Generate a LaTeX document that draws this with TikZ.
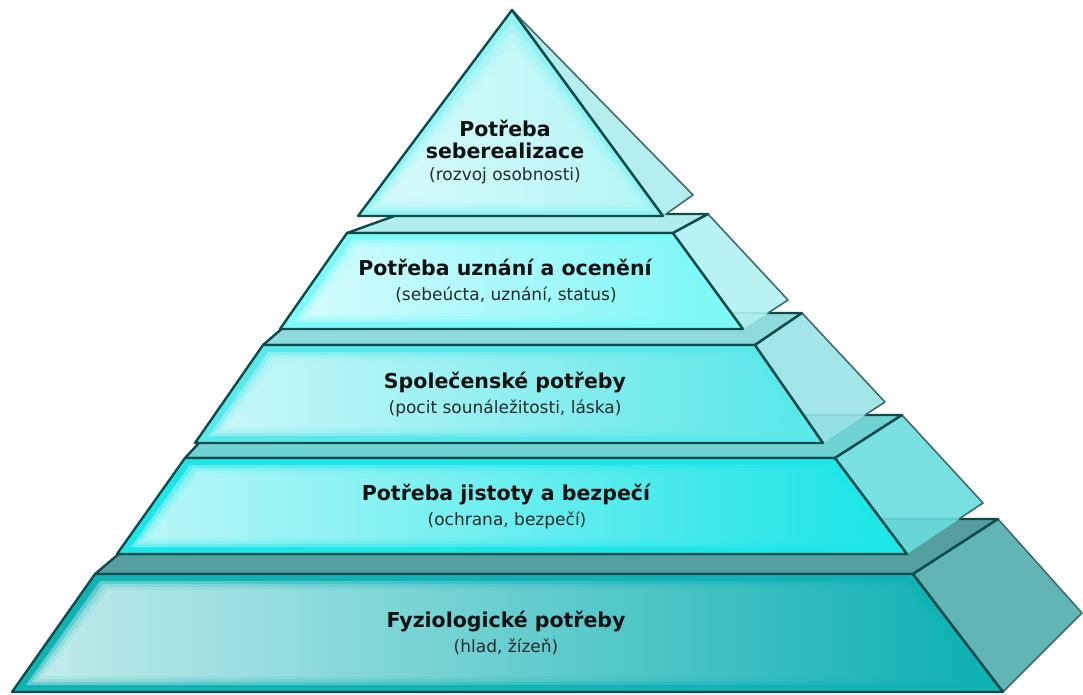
\documentclass[tikz,border=0pt]{standalone}
\usepackage{fontspec}
\setmainfont{DejaVu Sans}
\usetikzlibrary{calc}

\definecolor{edgec}{HTML}{0E4C4C}
\definecolor{sidec}{HTML}{416C6C}
\definecolor{textc}{HTML}{111111}
% colours of the levels (1 = top)
\definecolor{front1}{HTML}{90F2F2}\definecolor{hl1}{HTML}{DCFCFC}\definecolor{side1}{HTML}{ACECEC}
\definecolor{front2}{HTML}{7EF8F8}\definecolor{hl2}{HTML}{DCFEFE}\definecolor{strip2}{HTML}{B0EEEE}\definecolor{side2}{HTML}{B0F1F1}
\definecolor{front3}{HTML}{5AE8EA}\definecolor{hl3}{HTML}{D4FAFA}\definecolor{strip3}{HTML}{8FDADA}\definecolor{side3}{HTML}{98E3E5}
\definecolor{front4}{HTML}{1EE6E8}\definecolor{hl4}{HTML}{C8FAFA}\definecolor{strip4}{HTML}{6FD3D3}\definecolor{side4}{HTML}{69DDDD}
\definecolor{front5}{HTML}{10B2B4}\definecolor{hl5}{HTML}{D4F2F2}\definecolor{strip5}{HTML}{569F9F}\definecolor{side5}{HTML}{50ADAD}

\begin{document}
\begin{tikzpicture}[x=1pt,y=-1pt,line join=round,
    edge/.style={draw=edgec, line width=2.4pt},
    sideline/.style={draw=sidec, line width=1.6pt},
    bandtitle/.style={font=\bfseries\fontsize{20.5}{24}\selectfont, text=textc, anchor=base, inner sep=0pt},
    bandsub/.style={font=\fontsize{17}{20}\selectfont, text=textc!90, anchor=base, inner sep=0pt}]
    \useasboundingbox (0,0) rectangle (1083,695);

    % Levels, drawn from the bottom up
    \foreach \n/\yt/\yb/\lt/\lb/\rt/\rb/\ys/\sl/\sbt/\sbx/\sby/\cx/\cy in {
        5/574/692/95/12/913/1003/519/160/998/1082/613/1003/692,
        4/458/554/185/117/835/907/415/225/902/983/503/959/519,
        3/345/443/263/195/755/823/313/300/802/885/402/865/415,
        2/233/329/347/280/673/743/214/400/708/788/300/768/313} {
        % top strip
        \filldraw[fill=strip\n, edge] (\lt,\yt) -- (\sl,\ys) -- (\sbt,\ys) -- (\rt,\yt) -- cycle;
        % front face with a soft glow
        \fill[front\n] (\lt,\yt) -- (\rt,\yt) -- (\rb,\yb) -- (\lb,\yb) -- cycle;
        \foreach \d in {7,10,13,16}
            \shade[left color=hl\n, right color=front\n, opacity=.45]
                ({\lt+\d-2},{\yt+\d}) -- ({\rt-\d+2},{\yt+\d}) -- ({\rb-2*\d},{\yb-\d}) -- ({\lb+2*\d},{\yb-\d}) -- cycle;
        \draw[edge] (\lt,\yt) -- (\rt,\yt) -- (\rb,\yb) -- (\lb,\yb) -- cycle;
        % side face
        \fill[side\n, fill opacity=.9] (\rt,\yt) -- (\sbt,\ys) -- (\sbx,\sby) -- (\rb,\yb) -- cycle;
        \draw[sideline] (\sbt,\ys) -- (\sbx,\sby) -- (\cx,\cy);
        \draw[edge] (\rb,\yb) -- (\rt,\yt) -- (\sbt,\ys);
    }

    % Top
    \fill[front1] (512,10) -- (663,216) -- (358,216) -- cycle;
    \foreach \d in {5,9,13,17}
        \shade[left color=hl1, right color=front1!40!hl1, opacity=.45]
            (512,{10+2.4*\d}) -- ({663-1.8*\d},{216-\d}) -- ({358+1.8*\d},{216-\d}) -- cycle;
    \draw[edge] (512,10) -- (663,216) -- (358,216) -- cycle;
    \fill[side1, fill opacity=.9] (512,10) -- (693,195) -- (663,216) -- cycle;
    \draw[sideline] (514,12) -- (693,195) -- (666,214);
    \draw[edge] (512,10) -- (663,216);

    % Labels
    \node[bandtitle] (selfA) at (505,137) {Potřeba};
    \node[bandtitle] (selfB) at (505,159) {seberealizace};
    \node[bandsub] (selfC) at (505,180) {(rozvoj osobnosti)};
    \node[bandtitle] (esteemA) at (505,275) {Potřeba uznání a ocenění};
    \node[bandsub] (esteemB) at (506,300) {(sebeúcta, uznání, status)};
    \node[bandtitle] (socialA) at (505,388) {Společenské potřeby};
    \node[bandsub] (socialB) at (505,413) {(pocit sounáležitosti, láska)};
    \node[bandtitle] (safetyA) at (506,500) {Potřeba jistoty a bezpečí};
    \node[bandsub] (safetyB) at (507,525) {(ochrana, bezpečí)};
    \node[bandtitle] (physA) at (506,627) {Fyziologické potřeby};
    \node[bandsub] (physB) at (506,652) {(hlad, žízeň)};
\end{tikzpicture}
\end{document}
